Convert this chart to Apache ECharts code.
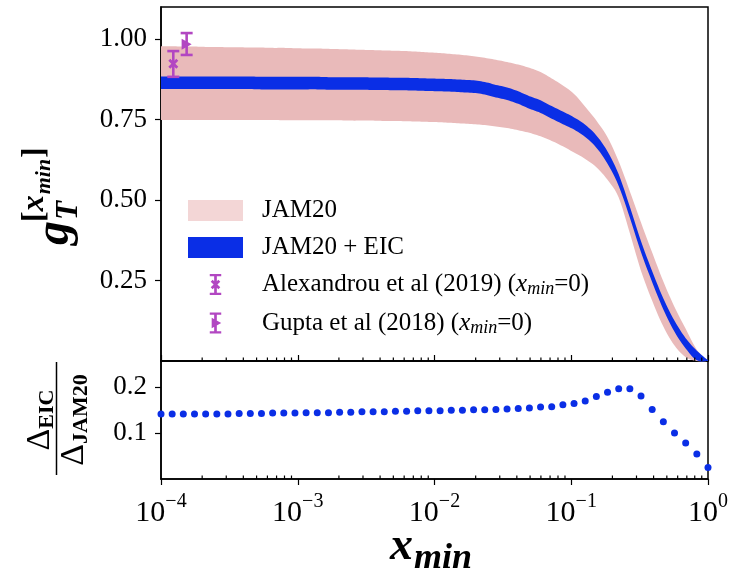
<!DOCTYPE html>
<html>
<head>
<meta charset="utf-8">
<script src="https://cdn.jsdelivr.net/npm/echarts@6/dist/echarts.min.js"></script>
<style>html,body{margin:0;padding:0;background:#fff}#c{width:741px;height:573px}</style>
</head>
<body>
<div id="c"></div>
<script>
// ---------------- data ----------------
const xGrid = [1.000e-4, 1.207e-4, 1.456e-4, 1.758e-4, 2.121e-4, 2.560e-4, 3.089e-4, 3.728e-4, 4.498e-4, 5.429e-4,
  6.551e-4, 7.906e-4, 9.541e-4, 1.151e-3, 1.389e-3, 1.677e-3, 2.024e-3, 2.442e-3, 2.947e-3, 3.556e-3,
  4.292e-3, 5.179e-3, 6.251e-3, 7.543e-3, 9.103e-3, 1.099e-2, 1.326e-2, 1.600e-2, 1.931e-2, 2.330e-2,
  2.812e-2, 3.393e-2, 4.095e-2, 4.942e-2, 5.964e-2, 7.197e-2, 8.685e-2, 0.1048, 0.1265, 0.1526,
  0.1842, 0.2223, 0.2683, 0.3237, 0.3907, 0.4715, 0.5690, 0.6866, 0.8286, 1.0];

const jam20Upper = [0.978, 0.978, 0.977, 0.977, 0.976, 0.976, 0.975, 0.975, 0.974, 0.974,
  0.973, 0.973, 0.972, 0.971, 0.971, 0.970, 0.969, 0.968, 0.967, 0.966,
  0.965, 0.964, 0.963, 0.961, 0.959, 0.957, 0.954, 0.951, 0.947, 0.942,
  0.936, 0.929, 0.921, 0.911, 0.898, 0.878, 0.856, 0.830, 0.790, 0.747,
  0.695, 0.620, 0.527, 0.430, 0.337, 0.247, 0.168, 0.100, 0.035, 0.0];

const jam20Lower = [0.749, 0.749, 0.749, 0.749, 0.749, 0.749, 0.749, 0.749, 0.749, 0.749,
  0.749, 0.748, 0.748, 0.748, 0.748, 0.748, 0.748, 0.747, 0.747, 0.747,
  0.746, 0.746, 0.745, 0.744, 0.743, 0.742, 0.740, 0.738, 0.736, 0.733,
  0.729, 0.724, 0.717, 0.709, 0.698, 0.684, 0.667, 0.648, 0.628, 0.602,
  0.563, 0.508, 0.397, 0.280, 0.187, 0.107, 0.048, 0.012, 0.0, 0.0];

const eicUpper = [0.884, 0.884, 0.884, 0.884, 0.884, 0.884, 0.884, 0.884, 0.884, 0.883,
  0.883, 0.883, 0.883, 0.883, 0.883, 0.882, 0.882, 0.882, 0.882, 0.881,
  0.881, 0.880, 0.880, 0.879, 0.878, 0.877, 0.876, 0.874, 0.872, 0.867,
  0.858, 0.850, 0.838, 0.823, 0.810, 0.792, 0.775, 0.757, 0.734, 0.701,
  0.651, 0.580, 0.479, 0.372, 0.279, 0.194, 0.125, 0.071, 0.032, 0.002];

const eicLower = [0.845, 0.845, 0.845, 0.845, 0.845, 0.845, 0.845, 0.845, 0.845, 0.844,
  0.844, 0.844, 0.844, 0.844, 0.844, 0.843, 0.843, 0.843, 0.843, 0.842,
  0.842, 0.841, 0.841, 0.840, 0.839, 0.838, 0.837, 0.835, 0.833, 0.828,
  0.819, 0.811, 0.799, 0.784, 0.771, 0.753, 0.736, 0.719, 0.696, 0.663,
  0.613, 0.544, 0.445, 0.338, 0.245, 0.160, 0.091, 0.039, 0.002, 0.0];

const ratio = [0.141, 0.141, 0.141, 0.141, 0.141, 0.141, 0.141, 0.142, 0.142, 0.142,
  0.143, 0.143, 0.143, 0.144, 0.144, 0.144, 0.145, 0.145, 0.146, 0.146,
  0.146, 0.147, 0.147, 0.148, 0.148, 0.148, 0.149, 0.149, 0.150, 0.150,
  0.151, 0.152, 0.153, 0.154, 0.156, 0.157, 0.161, 0.164, 0.169, 0.179,
  0.188, 0.196, 0.196, 0.180, 0.151, 0.124, 0.100, 0.078, 0.054, 0.025];

// [x, central value, lower end, upper end]
const alexandrouPoint = [1.23e-4, 0.924, 0.883, 0.963];
const guptaPoint = [1.54e-4, 0.984, 0.951, 1.019];

const xTickExponents = [-4, -3, -2, -1, 0];
const yTicksTop = [0.25, 0.50, 0.75, 1.00];
const yTicksBottom = [0.1, 0.2];
const minorMantissas = [2, 3, 4, 5, 6, 7, 8, 9];

const legendNames = ['JAM20', 'JAM20 + EIC', 'Alexandrou et al (2019)', 'Gupta et al (2018)'];

// ---------------- styling ----------------
const SERIF = '"Liberation Serif","Times New Roman",serif';
const PINK = '#e9baba';
const PINK_LEGEND = '#f3d6d6';
const BLUE = '#0a2ee6';
const PURPLE = '#b247c2';

const mctx = document.createElement('canvas').getContext('2d');
function fnt(size, style) { return (style ? style + ' ' : '') + size + 'px ' + SERIF; }
function tw(t, size, style) { mctx.font = fnt(size, style); return mctx.measureText(t).width; }
function txtStyle(text, size, style) {
  return { text: text, font: fnt(size, style), fill: '#000', align: 'left', verticalAlign: 'middle', textAlign: 'left', textVerticalAlign: 'middle' };
}
function htext(text, x, baseline, size, style) {
  return { type: 'text', x: x, y: baseline - 0.34 * size, silent: true, style: txtStyle(text, size, style) };
}
function vtext(text, baselineX, yStart, size, style) {
  return { type: 'text', x: baselineX - 0.34 * size, y: yStart, rotation: Math.PI / 2, silent: true, style: txtStyle(text, size, style) };
}

const minorTicks = [];
xTickExponents.slice(0, -1).forEach(e => minorMantissas.forEach(m => minorTicks.push([m * Math.pow(10, e), 0])));

// ---------------- graphic labels ----------------
const graphics = [];
// y label top : g_T^[x_min]
(function () {
  const B = 72, y0 = 245;
  graphics.push(vtext('g', B, y0, 48, 'italic bold'));
  const yT = y0 - tw('g', 48, 'italic bold');
  graphics.push(vtext('T', B + 8, yT - 1, 31, 'italic bold'));
  let ys = yT + 1;
  const SB = B - 26;
  graphics.push(vtext('[', SB, ys, 32, 'bold')); ys -= tw('[', 32, 'bold');
  graphics.push(vtext('x', SB, ys, 32, 'italic bold')); ys -= tw('x', 32, 'italic bold') + 1;
  graphics.push(vtext('min', SB + 6, ys, 22, 'italic bold')); ys -= tw('min', 22, 'italic bold') + 1;
  graphics.push(vtext(']', SB, ys, 32, 'bold'));
})();
// y label bottom : Δ_EIC / Δ_JAM20
(function () {
  const cy = 420;
  const nW = tw('\u0394', 34) + tw('EIC', 22, 'bold');
  let y = cy + nW / 2;
  graphics.push(vtext('\u0394', 52, y, 34)); y -= tw('\u0394', 34);
  graphics.push(vtext('EIC', 55, y, 22, 'bold'));
  const dW = tw('\u0394', 34) + tw('JAM20', 22, 'bold');
  y = cy + dW / 2;
  graphics.push(vtext('\u0394', 86, y, 34)); y -= tw('\u0394', 34);
  graphics.push(vtext('JAM20', 89, y, 22, 'bold'));
  graphics.push({ type: 'line', silent: true, shape: { x1: 56.5, y1: cy - 58, x2: 56.5, y2: cy + 55 }, style: { stroke: '#000', lineWidth: 1.5 } });
})();
// x label : x_min
(function () {
  const x0 = 390, base = 563;
  graphics.push(htext('x', x0, base, 46, 'italic bold'));
  graphics.push(htext('min', x0 + tw('x', 46, 'italic bold') + 1, base + 8, 36, 'italic bold'));
})();

// ---------------- chart ----------------
const chart = echarts.init(document.getElementById('c'), null, { renderer: 'canvas' });

function xy(arr) { return xGrid.map((x, i) => [x, arr[i]]); }
function bandData(lower, upper) { return xGrid.map((x, i) => [x, lower[i], upper[i]]); }

const axisLineStyle = { color: '#000', width: 1.5 };
const tickLabel = { fontFamily: SERIF, fontSize: 27, color: '#000' };

// Catmull-Rom smoothing of already-projected pixel points (rendering only)
function smoothPts(pts, steps) {
  const out = [];
  const n = pts.length;
  for (let i = 0; i < n - 1; i++) {
    const p0 = pts[Math.max(i - 1, 0)], p1 = pts[i], p2 = pts[i + 1], p3 = pts[Math.min(i + 2, n - 1)];
    for (let s = 0; s < steps; s++) {
      const t = s / steps, t2 = t * t, t3 = t2 * t;
      const f = (a, b, c, d) => 0.5 * ((2 * b) + (-a + c) * t + (2 * a - 5 * b + 4 * c - d) * t2 + (-a + 3 * b - 3 * c + d) * t3);
      out.push([f(p0[0], p1[0], p2[0], p3[0]), f(p0[1], p1[1], p2[1], p3[1])]);
    }
  }
  out.push(pts[n - 1]);
  return out;
}
function bandItem(color) {
  return function (params, api) {
    if (params.dataIndexInside !== 0) return null;
    const n = params.dataInsideLength;
    const top = [], bot = [];
    for (let i = 0; i < n; i++) {
      const x = api.value(0, i);
      top.push(api.coord([x, api.value(2, i)]));
      bot.push(api.coord([x, api.value(1, i)]));
    }
    const pts = smoothPts(top, 6).concat(smoothPts(bot, 6).reverse());
    return { type: 'polygon', shape: { points: pts }, style: { fill: color } };
  };
}
function errorBarItem(params, api) {
  const x = api.value(0), lo = api.value(2), hi = api.value(3);
  const pLo = api.coord([x, lo]), pHi = api.coord([x, hi]);
  const cap = 6, st = { stroke: PURPLE, lineWidth: 2.6 };
  return { type: 'group', children: [
    { type: 'line', shape: { x1: pLo[0], y1: pLo[1], x2: pHi[0], y2: pHi[1] }, style: st },
    { type: 'line', shape: { x1: pLo[0] - cap, y1: pLo[1], x2: pLo[0] + cap, y2: pLo[1] }, style: st },
    { type: 'line', shape: { x1: pHi[0] - cap, y1: pHi[1], x2: pHi[0] + cap, y2: pHi[1] }, style: st }
  ] };
}
function minorTickItem(len) {
  return function (params, api) {
    const p = api.coord([api.value(0), 0]);
    return { type: 'line', shape: { x1: p[0], y1: p[1], x2: p[0], y2: p[1] - len }, style: { stroke: '#000', lineWidth: 1.2 } };
  };
}

const ibeam = 'M0,0 H12 V2.4 H7.4 V19.6 H12 V22 H0 V19.6 H4.6 V2.4 H0 Z';
const xMark = 'M1,8 L3,6 L6,9 L9,6 L11,8 L8,11 L11,14 L9,16 L6,13 L3,16 L1,14 L4,11 Z';
const triMark = 'M2,5.5 L12,11 L2,16.5 Z';

const option = {
  animation: false,
  backgroundColor: '#fff',
  grid: [
    { left: 161, top: 7, width: 547, height: 354, show: true, borderColor: '#000', borderWidth: 1.5, backgroundColor: 'transparent' },
    { left: 161, top: 361, width: 547, height: 118, show: true, borderColor: '#000', borderWidth: 1.5, backgroundColor: 'transparent' }
  ],
  xAxis: [
    { type: 'log', logBase: 10, min: 1e-4, max: 1, gridIndex: 0,
      axisLine: { show: true, lineStyle: axisLineStyle },
      axisTick: { show: true, inside: true, length: 6, lineStyle: { color: '#000', width: 1.2 } },
      axisLabel: { show: false }, splitLine: { show: false } },
    { type: 'log', logBase: 10, min: 1e-4, max: 1, gridIndex: 1,
      axisLine: { show: true, lineStyle: axisLineStyle },
      axisTick: { show: true, inside: false, length: 6, lineStyle: { color: '#000', width: 1.2 } },
      splitLine: { show: false },
      axisLabel: {
        margin: 13,
        formatter: function (v) {
          const e = Math.round(Math.log10(v));
          if (xTickExponents.indexOf(e) < 0) return '';
          return '{b|10}{s|' + (e < 0 ? '\u2212' + (-e) : String(e)) + '}';
        },
        rich: {
          b: { fontFamily: SERIF, fontSize: 30, color: '#000', lineHeight: 42 },
          s: { fontFamily: SERIF, fontSize: 20, color: '#000', verticalAlign: 'top' }
        }
      } }
  ],
  yAxis: [
    { type: 'value', min: 0, max: 1.1, interval: 0.25, gridIndex: 0,
      axisLine: { show: true, lineStyle: axisLineStyle },
      axisTick: { show: true, length: 6, customValues: yTicksTop, lineStyle: { color: '#000', width: 1.2 } },
      axisLabel: Object.assign({ margin: 14, customValues: yTicksTop, formatter: v => v.toFixed(2) }, tickLabel),
      splitLine: { show: false } },
    { type: 'value', min: 0, max: 0.256, interval: 0.1, gridIndex: 1,
      axisLine: { show: true, lineStyle: axisLineStyle },
      axisTick: { show: true, length: 6, customValues: yTicksBottom, lineStyle: { color: '#000', width: 1.2 } },
      axisLabel: Object.assign({ margin: 14, customValues: yTicksBottom, formatter: v => v.toFixed(1) }, tickLabel),
      splitLine: { show: false } }
  ],
  legend: {
    orient: 'vertical', left: 183, top: 193, itemWidth: 55, itemHeight: 21, itemGap: 12,
    selectedMode: false, symbolKeepAspect: true,
    data: [
      { name: legendNames[0], icon: 'rect', itemStyle: { color: PINK_LEGEND } },
      { name: legendNames[1], icon: 'rect', itemStyle: { color: BLUE } },
      { name: legendNames[2], icon: 'path://' + ibeam + ' ' + xMark, itemStyle: { color: PURPLE } },
      { name: legendNames[3], icon: 'path://' + ibeam + ' ' + triMark, itemStyle: { color: PURPLE } }
    ],
    formatter: function (name) {
      if (name === legendNames[2] || name === legendNames[3]) {
        return '{t|' + name + ' (}{i|x}{s|min}{t|=0)}';
      }
      return '{t|' + name + '}';
    },
    textStyle: {
      fontFamily: SERIF, fontSize: 25, color: '#000', padding: [0, 0, 0, 14],
      rich: {
        t: { fontFamily: SERIF, fontSize: 25, color: '#000', lineHeight: 28 },
        i: { fontFamily: SERIF, fontSize: 25, fontStyle: 'italic', color: '#000', lineHeight: 28 },
        s: { fontFamily: SERIF, fontSize: 18, fontStyle: 'italic', color: '#000', verticalAlign: 'bottom' }
      }
    }
  },
  graphic: { elements: graphics },
  series: [
    { type: 'custom', name: legendNames[0], xAxisIndex: 0, yAxisIndex: 0, silent: true, z: 1,
      data: bandData(jam20Lower, jam20Upper), encode: { x: 0, y: [1, 2] },
      itemStyle: { color: PINK }, renderItem: bandItem(PINK) },
    { type: 'custom', name: legendNames[1], xAxisIndex: 0, yAxisIndex: 0, silent: true, z: 2,
      data: bandData(eicLower, eicUpper), encode: { x: 0, y: [1, 2] },
      itemStyle: { color: BLUE }, renderItem: bandItem(BLUE) },
    { type: 'custom', name: 'errorbars', xAxisIndex: 0, yAxisIndex: 0, silent: true, z: 4,
      data: [alexandrouPoint, guptaPoint], encode: { x: 0, y: [1, 2, 3] }, renderItem: errorBarItem },
    { type: 'scatter', name: legendNames[2], xAxisIndex: 0, yAxisIndex: 0, silent: true, z: 5,
      data: [[alexandrouPoint[0], alexandrouPoint[1]]], symbol: 'path://' + xMark, symbolSize: [10, 10],
      itemStyle: { color: PURPLE, opacity: 1 } },
    { type: 'scatter', name: legendNames[3], xAxisIndex: 0, yAxisIndex: 0, silent: true, z: 5,
      data: [[guptaPoint[0], guptaPoint[1]]], symbol: 'triangle', symbolRotate: -90, symbolSize: [11, 10],
      itemStyle: { color: PURPLE, opacity: 1 } },
    { type: 'custom', name: 'minor-top', xAxisIndex: 0, yAxisIndex: 0, silent: true, z: 6,
      data: minorTicks, encode: { x: 0, y: 1 }, renderItem: minorTickItem(3.5) },
    { type: 'custom', name: 'minor-bottom', xAxisIndex: 1, yAxisIndex: 1, silent: true, z: 6,
      data: minorTicks, encode: { x: 0, y: 1 }, renderItem: minorTickItem(3.5) },
    { type: 'scatter', name: 'ratio', xAxisIndex: 1, yAxisIndex: 1, silent: true, clip: false, z: 3,
      data: xy(ratio), symbol: 'circle', symbolSize: 7, itemStyle: { color: BLUE, opacity: 1 } }
  ]
};
chart.setOption(option);
</script>
</body>
</html>
